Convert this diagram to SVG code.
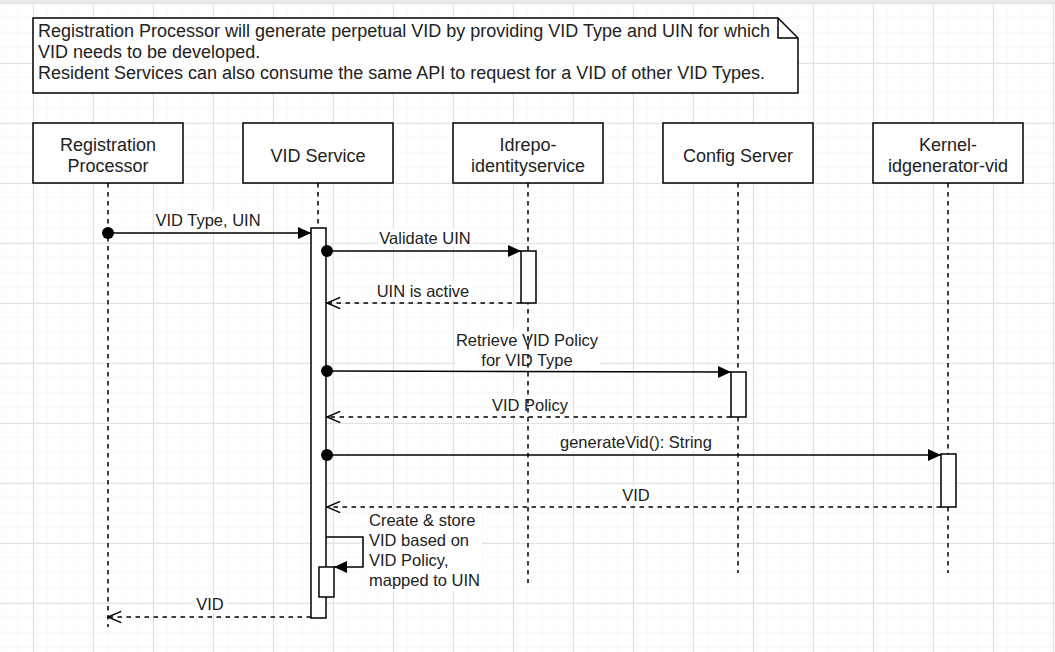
<svg xmlns="http://www.w3.org/2000/svg" width="1055" height="652" viewBox="0 0 1055 652">
<style>
text{font-family:"Liberation Sans",Arial,sans-serif;fill:#222;}
.t{font-size:18px;}
.l{font-size:16.5px;}
.box{fill:#fff;stroke:#000;stroke-width:1.5;}
.act{fill:#fff;stroke:#000;stroke-width:1.5;}
.life{fill:none;stroke:#000;stroke-width:1.5;stroke-dasharray:4.5 4.5;}
.msg{fill:none;stroke:#000;stroke-width:1.5;}
.ret{fill:none;stroke:#000;stroke-width:1.5;stroke-dasharray:4.5 4.5;}
.lbg{fill:#fff;}
</style>
<defs>
<pattern id="minor" patternUnits="userSpaceOnUse" x="33" y="3" width="15" height="15">
<path d="M15,0 V15 M0,15 H15" fill="none" stroke="#f2f2f2" stroke-width="1"/>
</pattern>
<pattern id="major" patternUnits="userSpaceOnUse" x="33" y="3" width="60" height="60">
<path d="M0.5,0 V60 M0,0.5 H60" fill="none" stroke="#e3e3e3" stroke-width="1"/>
</pattern>
<marker id="block" markerUnits="userSpaceOnUse" markerWidth="14" markerHeight="14" refX="13" refY="6" orient="auto" viewBox="0 0 14 12">
<path d="M0,0 L13,6 L0,12 z" fill="#000"/>
</marker>
<marker id="open" markerUnits="userSpaceOnUse" markerWidth="16" markerHeight="16" refX="14" refY="7" orient="auto" viewBox="-1 0 17 14">
<path d="M0,1 L14,7 L0,13" fill="none" stroke="#000" stroke-width="1.5"/>
</marker>
<marker id="dot" markerUnits="userSpaceOnUse" markerWidth="13" markerHeight="13" refX="6.5" refY="6.5" orient="auto" viewBox="0 0 13 13">
<circle cx="6.5" cy="6.5" r="6" fill="#000"/>
</marker>
</defs>

<g id="background">
<rect x="0" y="0" width="1055" height="652" fill="#fff"/>
<rect x="0" y="0" width="1055" height="652" fill="url(#minor)"/>
<rect x="0" y="0" width="1055" height="652" fill="url(#major)"/>
<rect x="0" y="0" width="1055" height="3" fill="#e9e9e9"/>
</g>

<g id="note">
<path d="M33,18 H778 L798,38 V93 H33 Z" class="box"/>
<path d="M778,18 V38 H798" fill="none" stroke="#000" stroke-width="1.5"/>
<text class="t" x="38" y="37">Registration Processor will generate perpetual VID by providing VID Type and UIN for which</text>
<text class="t" x="38" y="58">VID needs to be developed.</text>
<text class="t" x="38" y="79">Resident Services can also consume the same API to request for a VID of other VID Types.</text>
</g>

<g id="label-backgrounds">
<rect class="lbg" x="155" y="211" width="106" height="18"/>
<rect class="lbg" x="378" y="229" width="95" height="18"/>
<rect class="lbg" x="375" y="282" width="96" height="18"/>
<rect class="lbg" x="455" y="331" width="145" height="38"/>
<rect class="lbg" x="490" y="396" width="80" height="18"/>
<rect class="lbg" x="558" y="433" width="156" height="18"/>
<rect class="lbg" x="620" y="486" width="32" height="18"/>
<rect class="lbg" x="367" y="511" width="115" height="80"/>
<rect class="lbg" x="194" y="595" width="32" height="18"/>
</g>

<g id="registration-processor">
<line class="life" x1="108" y1="183" x2="108" y2="627"/>
<rect class="box" x="33" y="123" width="150" height="60"/>
<text class="t" x="108" y="151" text-anchor="middle">Registration</text>
<text class="t" x="108" y="172" text-anchor="middle">Processor</text>
</g>

<g id="vid-service">
<line class="life" x1="318" y1="183" x2="318" y2="618"/>
<rect class="box" x="243" y="123" width="150" height="60"/>
<text class="t" x="318" y="162" text-anchor="middle">VID Service</text>
<rect class="act" x="311" y="228" width="15" height="390"/>
<rect class="act" x="319" y="567" width="15" height="30"/>
</g>

<g id="idrepo-identityservice">
<line class="life" x1="528" y1="183" x2="528" y2="583"/>
<rect class="box" x="453" y="123" width="150" height="60"/>
<text class="t" x="528" y="151" text-anchor="middle">Idrepo-</text>
<text class="t" x="528" y="172" text-anchor="middle">identityservice</text>
<rect class="act" x="521" y="251" width="15" height="52"/>
</g>

<g id="config-server">
<line class="life" x1="738" y1="183" x2="738" y2="573"/>
<rect class="box" x="663" y="123" width="150" height="60"/>
<text class="t" x="738" y="162" text-anchor="middle">Config Server</text>
<rect class="act" x="731" y="372" width="15" height="45"/>
</g>

<g id="kernel-idgenerator-vid">
<line class="life" x1="948" y1="183" x2="948" y2="573"/>
<rect class="box" x="873" y="123" width="150" height="60"/>
<text class="t" x="948" y="151" text-anchor="middle">Kernel-</text>
<text class="t" x="948" y="172" text-anchor="middle">idgenerator-vid</text>
<rect class="act" x="941" y="454" width="15" height="53"/>
</g>

<g id="connectors">
<line class="msg" x1="108" y1="233" x2="311" y2="233" marker-start="url(#dot)" marker-end="url(#block)"/>
<text class="l" x="208" y="226" text-anchor="middle">VID Type, UIN</text>

<line class="msg" x1="327" y1="251" x2="521" y2="251" marker-start="url(#dot)" marker-end="url(#block)"/>
<text class="l" x="425" y="244" text-anchor="middle">Validate UIN</text>

<line class="ret" x1="521" y1="303" x2="327" y2="303" marker-end="url(#open)"/>
<text class="l" x="423" y="297" text-anchor="middle">UIN is active</text>

<line class="msg" x1="327" y1="371" x2="731" y2="372" marker-start="url(#dot)" marker-end="url(#block)"/>
<text class="l" x="527" y="346" text-anchor="middle">Retrieve VID Policy</text>
<text class="l" x="527" y="366" text-anchor="middle">for VID Type</text>

<line class="ret" x1="731" y1="417" x2="327" y2="417" marker-end="url(#open)"/>
<text class="l" x="530" y="411" text-anchor="middle">VID Policy</text>

<line class="msg" x1="327" y1="455" x2="941" y2="455" marker-start="url(#dot)" marker-end="url(#block)"/>
<text class="l" x="636" y="448" text-anchor="middle">generateVid(): String</text>

<line class="ret" x1="941" y1="507" x2="327" y2="507" marker-end="url(#open)"/>
<text class="l" x="636" y="501" text-anchor="middle">VID</text>

<path class="msg" d="M326,537 H363 V567 H334" marker-end="url(#block)"/>
<text class="l" x="369" y="526">Create &amp; store</text>
<text class="l" x="369" y="546">VID based on</text>
<text class="l" x="369" y="566">VID Policy,</text>
<text class="l" x="369" y="586">mapped to UIN</text>

<line class="ret" x1="311" y1="617" x2="108" y2="617" marker-end="url(#open)"/>
<text class="l" x="210" y="610" text-anchor="middle">VID</text>
</g>
</svg>
